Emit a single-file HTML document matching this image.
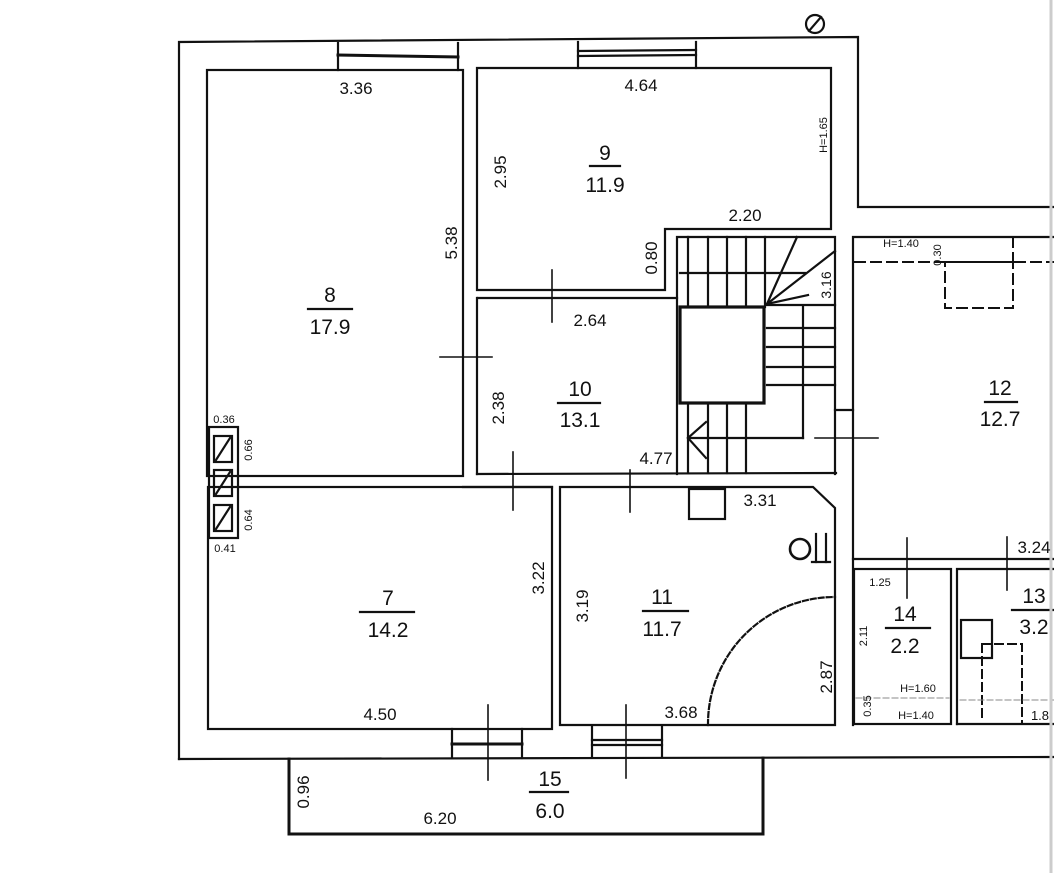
<!DOCTYPE html>
<html><head><meta charset="utf-8"><style>
html,body{margin:0;padding:0;background:#fff;}
svg{display:block;}
text{font-family:"Liberation Sans",sans-serif;fill:#111;}
</style></head><body>
<svg width="1054" height="873" viewBox="0 0 1054 873" xmlns="http://www.w3.org/2000/svg">
<rect width="1054" height="873" fill="#fff"/>
<g stroke="#111" stroke-width="2.2" fill="none" stroke-linecap="square">
<polyline points="179,759 179,42 858,37 858,207 1054,207"/>
<line x1="179" y1="759" x2="1054" y2="757"/>
<polyline points="289,759 289,834 763,834 763,758" stroke-width="3"/>
<line x1="338" y1="43" x2="338" y2="70"/><line x1="458" y1="43" x2="458" y2="70"/>
<line x1="338" y1="55" x2="458" y2="57" stroke-width="3"/>
<line x1="578" y1="42" x2="578" y2="68"/><line x1="696" y1="42" x2="696" y2="68"/>
<line x1="578" y1="51" x2="696" y2="50"/><line x1="578" y1="56" x2="696" y2="55"/>
<line x1="452" y1="729" x2="452" y2="758"/><line x1="522" y1="729" x2="522" y2="758"/>
<line x1="452" y1="744" x2="522" y2="744" stroke-width="3"/>
<line x1="592" y1="726" x2="592" y2="757"/><line x1="662" y1="726" x2="662" y2="757"/>
<line x1="592" y1="740" x2="662" y2="740"/><line x1="592" y1="745" x2="662" y2="745"/>
<rect x="207" y="70" width="256" height="406"/>
<polyline points="477,68 831,68 831,229 665,229 665,290 477,290 477,68"/>
<polyline points="478,298 677,298"/>
<line x1="477" y1="298" x2="477" y2="474"/>
<line x1="463" y1="487" x2="552" y2="487"/>
<line x1="477" y1="474" x2="836" y2="473"/>
<polyline points="677,474 677,237 835,237 835,474"/>
<rect x="680" y="307" width="84" height="96" stroke-width="3.2"/>
<line x1="680" y1="273" x2="805" y2="273"/>
<line x1="688" y1="237" x2="688" y2="307"/><line x1="708" y1="237" x2="708" y2="307"/>
<line x1="727" y1="237" x2="727" y2="307"/><line x1="746" y1="237" x2="746" y2="307"/>
<line x1="765" y1="237" x2="765" y2="307"/>
<line x1="767" y1="328" x2="835" y2="328"/><line x1="767" y1="347" x2="835" y2="347"/>
<line x1="767" y1="367" x2="835" y2="367"/><line x1="767" y1="385" x2="835" y2="385"/>
<line x1="767" y1="305" x2="835" y2="305"/>
<line x1="803" y1="307" x2="803" y2="438"/>
<line x1="688" y1="438" x2="803" y2="438"/>
<line x1="688" y1="403" x2="688" y2="473"/><line x1="708" y1="403" x2="708" y2="473"/>
<line x1="727" y1="403" x2="727" y2="473"/><line x1="746" y1="403" x2="746" y2="473"/>
<line x1="688" y1="438" x2="706" y2="422"/><line x1="688" y1="438" x2="706" y2="458"/>
<line x1="767" y1="304" x2="797" y2="237"/><line x1="767" y1="304" x2="835" y2="251"/>
<line x1="767" y1="304" x2="808" y2="295"/>
<line x1="835" y1="410" x2="853" y2="410"/>
<rect x="208" y="487" width="344" height="242"/>
<rect x="209" y="427" width="29" height="111"/>
<rect x="214" y="436" width="18" height="26"/><line x1="216" y1="460" x2="230" y2="438"/>
<rect x="214" y="470" width="18" height="26"/><line x1="216" y1="494" x2="230" y2="472"/>
<rect x="214" y="505" width="18" height="26"/><line x1="216" y1="529" x2="230" y2="507"/>
<polyline points="560,725 560,487 813,487 835,508 835,725 560,725"/>
<rect x="689" y="489" width="36" height="30"/>
<circle cx="800" cy="549" r="10" stroke-width="2.6"/>
<line x1="816" y1="534" x2="816" y2="562"/><line x1="826" y1="534" x2="826" y2="562"/><line x1="812" y1="562" x2="830" y2="562"/>
<path d="M708,725 A127,127 0 0 1 835,597" stroke-dasharray="5,3"/>
<polyline points="853,725 853,237 1054,237"/>
<line x1="853" y1="559" x2="1054" y2="559"/>
<g stroke-dasharray="10,6" stroke-width="2">
<line x1="855" y1="262" x2="1054" y2="262"/>
<rect x="945" y="262" width="68" height="46"/>
<line x1="1013" y1="237" x2="1013" y2="262"/>
</g>
<rect x="854" y="569" width="97" height="155"/>
<line x1="856" y1="698" x2="949" y2="698" stroke="#888" stroke-width="1" stroke-dasharray="6,3"/>
<polyline points="957,724 957,569 1054,569"/>
<line x1="957" y1="724" x2="1054" y2="724"/>
<rect x="961" y="620" width="31" height="38"/>
<g stroke-dasharray="8,5" stroke-width="2">
<polyline points="982,644 1022,644 1022,722"/>
<line x1="982" y1="644" x2="982" y2="722"/>
</g>
<line x1="960" y1="700" x2="1054" y2="700" stroke="#888" stroke-width="1" stroke-dasharray="6,3"/>
<line x1="552" y1="270" x2="552" y2="322" stroke-width="1.6"/>
<line x1="440" y1="357" x2="492" y2="357" stroke-width="1.6"/>
<line x1="513" y1="452" x2="513" y2="510" stroke-width="1.6"/>
<line x1="630" y1="470" x2="630" y2="512" stroke-width="1.6"/>
<line x1="488" y1="705" x2="488" y2="780" stroke-width="1.6"/>
<line x1="626" y1="705" x2="626" y2="778" stroke-width="1.6"/>
<line x1="815" y1="438" x2="878" y2="438" stroke-width="1.6"/>
<line x1="907" y1="538" x2="907" y2="598" stroke-width="1.6"/>
<line x1="1007" y1="537" x2="1007" y2="590" stroke-width="1.6"/>
<circle cx="815" cy="24" r="9"/><line x1="809" y1="31" x2="821" y2="17"/>
<line x1="590" y1="166" x2="620" y2="166"/>
<line x1="308" y1="309" x2="352" y2="309"/>
<line x1="558" y1="403" x2="600" y2="403"/>
<line x1="985" y1="402" x2="1017" y2="402"/>
<line x1="360" y1="612" x2="414" y2="612"/>
<line x1="643" y1="611" x2="688" y2="611"/>
<line x1="530" y1="792" x2="568" y2="792"/>
<line x1="886" y1="628" x2="930" y2="628"/>
<line x1="1012" y1="610" x2="1054" y2="610"/>
</g>
<line x1="1051" y1="0" x2="1051" y2="873" stroke="#ccc" stroke-width="3"/>
<g font-size="17" text-anchor="middle">
<text x="356" y="94">3.36</text>
<text x="641" y="91">4.64</text>
<text x="745" y="221">2.20</text>
<text x="590" y="326">2.64</text>
<text x="656" y="464">4.77</text>
<text x="760" y="506">3.31</text>
<text x="380" y="720">4.50</text>
<text x="681" y="718">3.68</text>
<text x="440" y="824">6.20</text>
<text x="1034" y="553">3.24</text>
<text x="1040" y="720" font-size="13">1.8</text>
<g font-size="21">
<text x="605" y="160">9</text><text x="605" y="192">11.9</text>
<text x="330" y="302">8</text><text x="330" y="334">17.9</text>
<text x="580" y="396">10</text><text x="580" y="427">13.1</text>
<text x="1000" y="395">12</text><text x="1000" y="426">12.7</text>
<text x="388" y="605">7</text><text x="388" y="637">14.2</text>
<text x="662" y="604">11</text><text x="662" y="636">11.7</text>
<text x="550" y="786">15</text><text x="550" y="818">6.0</text>
<text x="905" y="621">14</text><text x="905" y="653">2.2</text>
<text x="1034" y="603">13</text><text x="1034" y="634">3.2</text>
</g>
<text transform="translate(506,172) rotate(-90)">2.95</text>
<text transform="translate(457,243) rotate(-90)">5.38</text>
<text transform="translate(657,258) rotate(-90)">0.80</text>
<text transform="translate(504,408) rotate(-90)">2.38</text>
<text transform="translate(544,578) rotate(-90)">3.22</text>
<text transform="translate(588,606) rotate(-90)">3.19</text>
<text transform="translate(832,677) rotate(-90)">2.87</text>
<text transform="translate(309,792) rotate(-90)">0.96</text>
<text transform="translate(831,285) rotate(-90)" font-size="14">3.16</text>
<g font-size="11">
<text x="224" y="423">0.36</text>
<text x="225" y="552">0.41</text>
<text transform="translate(252,450) rotate(-90)">0.66</text>
<text transform="translate(252,520) rotate(-90)">0.64</text>
<text transform="translate(827,135) rotate(-90)">H=1.65</text>
<text x="901" y="247">H=1.40</text>
<text transform="translate(941,255) rotate(-90)">0.30</text>
<text x="880" y="586">1.25</text>
<text transform="translate(867,636) rotate(-90)">2.11</text>
<text transform="translate(871,706) rotate(-90)">0.35</text>
<text x="918" y="692">H=1.60</text>
<text x="916" y="719">H=1.40</text>
</g>
</g>
</svg>
</body></html>
